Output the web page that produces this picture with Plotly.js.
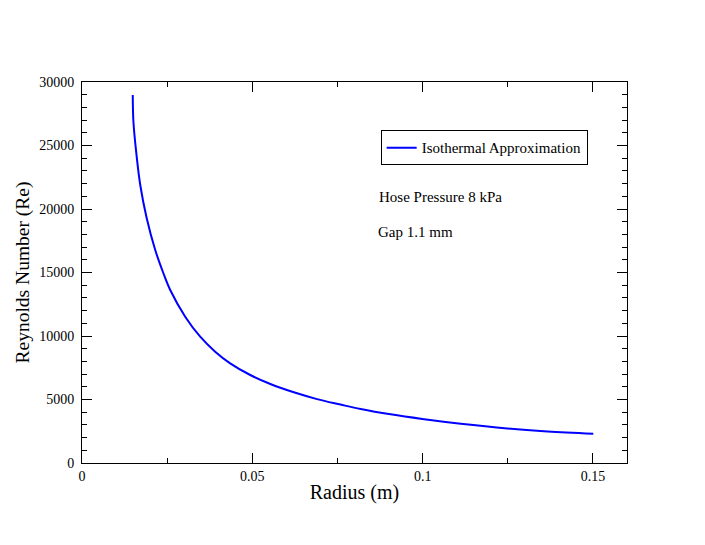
<!DOCTYPE html>
<html>
<head>
<meta charset="utf-8">
<script src="https://cdn.plot.ly/plotly-3.0.1.min.js"></script>
<style>
  body { margin: 0; background: #fff; }
  #chart { width: 705px; height: 545px; }
</style>
</head>
<body>
<div id="chart"></div>
<script>
// radius (m) and Reynolds number
var radius = [0.0149, 0.0151, 0.0159, 0.0171, 0.0190, 0.0215, 0.0239, 0.0259, 0.0303,
              0.0347, 0.0391, 0.0435, 0.0494, 0.0553, 0.0622, 0.0690, 0.0759, 0.0818,
              0.0906, 0.0999, 0.1112, 0.1249, 0.1367, 0.1501];
var reynolds = [28980, 26870, 24510, 21890, 19270, 16770, 14940, 13620, 11520,
                9945, 8765, 7850, 6930, 6220, 5565, 5030, 4600, 4250,
                3830, 3465, 3090, 2720, 2490, 2310];
var seriesName = 'Isothermal Approximation';
var notes = ['Hose Pressure 8 kPa', 'Gap 1.1 mm'];

var serif = 'Liberation Serif, Times New Roman, serif';

var data = [
  {
    x: radius,
    y: reynolds,
    type: 'scatter',
    mode: 'lines',
    name: seriesName,
    line: { color: '#0000ff', width: 2, shape: 'spline', smoothing: 1 },
    hoverinfo: 'none'
  }
];

function axisStyle(extra) {
  var a = {
    showgrid: false,
    zeroline: false,
    showline: true,
    linecolor: '#000',
    linewidth: 1,
    mirror: 'ticks',
    ticks: 'inside',
    ticklen: 10,
    tickwidth: 1,
    tickcolor: '#000',
    tickformat: 'd',
    tickfont: { family: serif, size: 14, color: '#000' }
  };
  for (var k in extra) a[k] = extra[k];
  return a;
}

var layout = {
  width: 705,
  height: 545,
  margin: { l: 82, r: 78, t: 82, b: 82 },
  paper_bgcolor: '#fff',
  plot_bgcolor: '#fff',
  font: { family: serif, color: '#000' },
  showlegend: true,
  legend: {
    x: 0.548, y: 0.873, xanchor: 'left', yanchor: 'top',
    bordercolor: '#000', borderwidth: 1, bgcolor: '#fff',
    font: { family: serif, size: 15, color: '#000' },
    itemwidth: 30
  },
  xaxis: axisStyle({
    range: [0, 0.16], dtick: 0.05, tick0: 0, tickformat: '',
    minor: { ticks: 'inside', ticklen: 5, tickwidth: 1, tickcolor: '#000', dtick: 0.025 },
    title: { text: 'Radius (m)', font: { family: serif, size: 20 }, standoff: 2 }
  }),
  yaxis: axisStyle({
    range: [0, 30000], dtick: 5000, tick0: 0,
    ticklabelstandoff: 4,
    minor: { ticks: 'inside', ticklen: 5, tickwidth: 1, tickcolor: '#000', dtick: 1000 },
    title: { text: 'Reynolds Number (Re)', font: { family: serif, size: 19.5 }, standoff: 4 }
  }),
  annotations: [
    { text: notes[0], xref: 'paper', yref: 'paper', x: 0.542, y: 0.697, xanchor: 'left', yanchor: 'middle',
      showarrow: false, font: { family: serif, size: 15, color: '#000' } },
    { text: notes[1], xref: 'paper', yref: 'paper', x: 0.540, y: 0.606, xanchor: 'left', yanchor: 'middle',
      showarrow: false, font: { family: serif, size: 15, color: '#000' } }
  ]
};

Plotly.newPlot('chart', data, layout, { staticPlot: true, displayModeBar: false });
</script>
</body>
</html>
